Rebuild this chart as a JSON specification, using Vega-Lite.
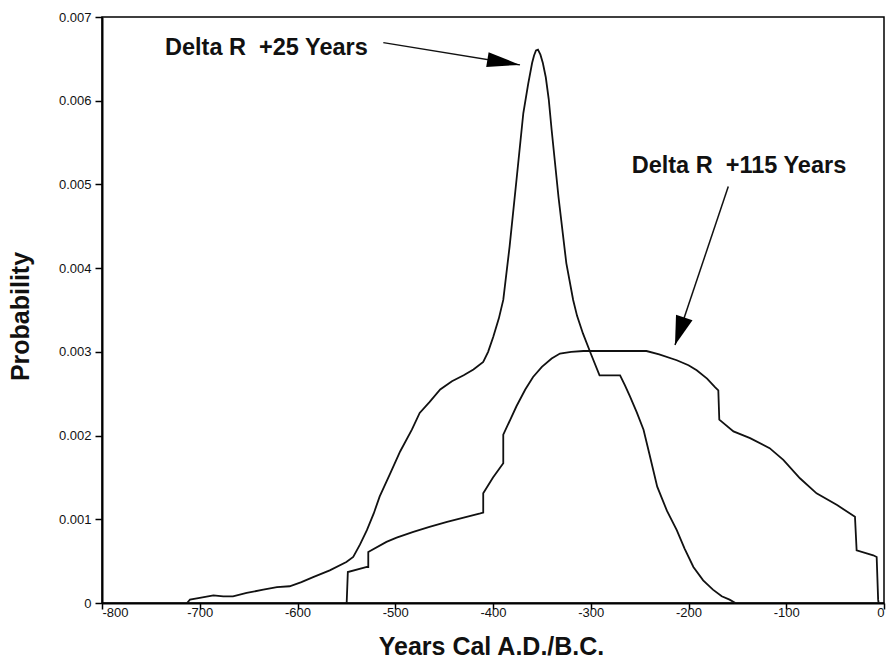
{
  "$schema": "https://vega.github.io/schema/vega-lite/v6.json",
  "width": 782,
  "height": 586,
  "autosize": {"type": "none"},
  "padding": {"left": 102, "top": 17, "right": 5, "bottom": 57},
  "background": "white",
  "config": {
    "view": {"stroke": "#000", "strokeWidth": 1.5},
    "axis": {
      "grid": false,
      "domainColor": "#000",
      "domainWidth": 2,
      "tickColor": "#000",
      "tickWidth": 1.5,
      "labelFont": "Liberation Sans",
      "labelFontSize": 13,
      "labelColor": "#111",
      "titleFont": "Liberation Sans",
      "titleFontSize": 25,
      "titleFontWeight": "bold",
      "titleColor": "#111"
    }
  },
  "datasets": {
    "curves": [
      {"series": "Delta R +25 Years", "year": -713, "p": 0},
      {"series": "Delta R +25 Years", "year": -710, "p": 0.00004},
      {"series": "Delta R +25 Years", "year": -700, "p": 0.00006},
      {"series": "Delta R +25 Years", "year": -686, "p": 0.00009},
      {"series": "Delta R +25 Years", "year": -676, "p": 0.00008},
      {"series": "Delta R +25 Years", "year": -666, "p": 0.00008},
      {"series": "Delta R +25 Years", "year": -652, "p": 0.00012},
      {"series": "Delta R +25 Years", "year": -635, "p": 0.00016},
      {"series": "Delta R +25 Years", "year": -621, "p": 0.00019},
      {"series": "Delta R +25 Years", "year": -608, "p": 0.0002},
      {"series": "Delta R +25 Years", "year": -596, "p": 0.00025},
      {"series": "Delta R +25 Years", "year": -584, "p": 0.00031},
      {"series": "Delta R +25 Years", "year": -567, "p": 0.00039},
      {"series": "Delta R +25 Years", "year": -550, "p": 0.00049},
      {"series": "Delta R +25 Years", "year": -543, "p": 0.00055},
      {"series": "Delta R +25 Years", "year": -536, "p": 0.0007},
      {"series": "Delta R +25 Years", "year": -529, "p": 0.00087},
      {"series": "Delta R +25 Years", "year": -522, "p": 0.00107},
      {"series": "Delta R +25 Years", "year": -516, "p": 0.00127},
      {"series": "Delta R +25 Years", "year": -505, "p": 0.00155},
      {"series": "Delta R +25 Years", "year": -495, "p": 0.00181},
      {"series": "Delta R +25 Years", "year": -483, "p": 0.00207},
      {"series": "Delta R +25 Years", "year": -475, "p": 0.00227},
      {"series": "Delta R +25 Years", "year": -465, "p": 0.0024},
      {"series": "Delta R +25 Years", "year": -454, "p": 0.00255},
      {"series": "Delta R +25 Years", "year": -442, "p": 0.00265},
      {"series": "Delta R +25 Years", "year": -430, "p": 0.00272},
      {"series": "Delta R +25 Years", "year": -420, "p": 0.00279},
      {"series": "Delta R +25 Years", "year": -410, "p": 0.00288},
      {"series": "Delta R +25 Years", "year": -405, "p": 0.003},
      {"series": "Delta R +25 Years", "year": -399.7, "p": 0.00318},
      {"series": "Delta R +25 Years", "year": -394, "p": 0.0034},
      {"series": "Delta R +25 Years", "year": -389.5, "p": 0.00362},
      {"series": "Delta R +25 Years", "year": -383, "p": 0.00426},
      {"series": "Delta R +25 Years", "year": -376, "p": 0.00505},
      {"series": "Delta R +25 Years", "year": -369, "p": 0.00585},
      {"series": "Delta R +25 Years", "year": -364, "p": 0.0062},
      {"series": "Delta R +25 Years", "year": -360, "p": 0.00645},
      {"series": "Delta R +25 Years", "year": -358, "p": 0.00654},
      {"series": "Delta R +25 Years", "year": -356, "p": 0.0066},
      {"series": "Delta R +25 Years", "year": -354, "p": 0.00661},
      {"series": "Delta R +25 Years", "year": -351.5, "p": 0.00655},
      {"series": "Delta R +25 Years", "year": -349, "p": 0.00645},
      {"series": "Delta R +25 Years", "year": -346, "p": 0.00628},
      {"series": "Delta R +25 Years", "year": -343, "p": 0.00602},
      {"series": "Delta R +25 Years", "year": -340, "p": 0.00565},
      {"series": "Delta R +25 Years", "year": -333, "p": 0.00485},
      {"series": "Delta R +25 Years", "year": -325, "p": 0.00406},
      {"series": "Delta R +25 Years", "year": -318, "p": 0.00362},
      {"series": "Delta R +25 Years", "year": -314, "p": 0.00343},
      {"series": "Delta R +25 Years", "year": -308, "p": 0.00322},
      {"series": "Delta R +25 Years", "year": -300, "p": 0.00298},
      {"series": "Delta R +25 Years", "year": -291, "p": 0.00272},
      {"series": "Delta R +25 Years", "year": -270, "p": 0.00272},
      {"series": "Delta R +25 Years", "year": -265, "p": 0.0026},
      {"series": "Delta R +25 Years", "year": -260, "p": 0.00247},
      {"series": "Delta R +25 Years", "year": -253, "p": 0.00228},
      {"series": "Delta R +25 Years", "year": -246, "p": 0.00207},
      {"series": "Delta R +25 Years", "year": -240, "p": 0.00178},
      {"series": "Delta R +25 Years", "year": -232, "p": 0.00139},
      {"series": "Delta R +25 Years", "year": -222, "p": 0.0011},
      {"series": "Delta R +25 Years", "year": -212, "p": 0.00087},
      {"series": "Delta R +25 Years", "year": -204, "p": 0.00065},
      {"series": "Delta R +25 Years", "year": -195, "p": 0.00043},
      {"series": "Delta R +25 Years", "year": -185, "p": 0.00027},
      {"series": "Delta R +25 Years", "year": -175, "p": 0.00016},
      {"series": "Delta R +25 Years", "year": -166, "p": 0.00008},
      {"series": "Delta R +25 Years", "year": -158, "p": 0.00004},
      {"series": "Delta R +25 Years", "year": -152, "p": 0},
      {"series": "Delta R +115 Years", "year": -549.7, "p": 0},
      {"series": "Delta R +115 Years", "year": -548.5, "p": 0.00037},
      {"series": "Delta R +115 Years", "year": -529, "p": 0.00043},
      {"series": "Delta R +115 Years", "year": -527.6, "p": 0.00043},
      {"series": "Delta R +115 Years", "year": -527.6, "p": 0.00061},
      {"series": "Delta R +115 Years", "year": -509, "p": 0.00073},
      {"series": "Delta R +115 Years", "year": -498.6, "p": 0.00078},
      {"series": "Delta R +115 Years", "year": -481.5, "p": 0.00085},
      {"series": "Delta R +115 Years", "year": -465, "p": 0.00091},
      {"series": "Delta R +115 Years", "year": -447, "p": 0.00097},
      {"series": "Delta R +115 Years", "year": -430, "p": 0.00102},
      {"series": "Delta R +115 Years", "year": -413, "p": 0.00107},
      {"series": "Delta R +115 Years", "year": -410, "p": 0.00108},
      {"series": "Delta R +115 Years", "year": -410, "p": 0.00131},
      {"series": "Delta R +115 Years", "year": -400, "p": 0.0015},
      {"series": "Delta R +115 Years", "year": -389.5, "p": 0.00167},
      {"series": "Delta R +115 Years", "year": -389.5, "p": 0.00201},
      {"series": "Delta R +115 Years", "year": -376, "p": 0.00235},
      {"series": "Delta R +115 Years", "year": -367, "p": 0.00255},
      {"series": "Delta R +115 Years", "year": -359, "p": 0.0027},
      {"series": "Delta R +115 Years", "year": -350, "p": 0.00282},
      {"series": "Delta R +115 Years", "year": -340, "p": 0.00292},
      {"series": "Delta R +115 Years", "year": -331.5, "p": 0.00298},
      {"series": "Delta R +115 Years", "year": -320, "p": 0.003},
      {"series": "Delta R +115 Years", "year": -307.6, "p": 0.00301},
      {"series": "Delta R +115 Years", "year": -243, "p": 0.00301},
      {"series": "Delta R +115 Years", "year": -230, "p": 0.00297},
      {"series": "Delta R +115 Years", "year": -212, "p": 0.0029},
      {"series": "Delta R +115 Years", "year": -200, "p": 0.00284},
      {"series": "Delta R +115 Years", "year": -191.6, "p": 0.00278},
      {"series": "Delta R +115 Years", "year": -181, "p": 0.00268},
      {"series": "Delta R +115 Years", "year": -172.9, "p": 0.00258},
      {"series": "Delta R +115 Years", "year": -169.5, "p": 0.00254},
      {"series": "Delta R +115 Years", "year": -168.5, "p": 0.00219},
      {"series": "Delta R +115 Years", "year": -154, "p": 0.00205},
      {"series": "Delta R +115 Years", "year": -137, "p": 0.00197},
      {"series": "Delta R +115 Years", "year": -117, "p": 0.00185},
      {"series": "Delta R +115 Years", "year": -103, "p": 0.00171},
      {"series": "Delta R +115 Years", "year": -86, "p": 0.00149},
      {"series": "Delta R +115 Years", "year": -69, "p": 0.00131},
      {"series": "Delta R +115 Years", "year": -48, "p": 0.00117},
      {"series": "Delta R +115 Years", "year": -29.7, "p": 0.00103},
      {"series": "Delta R +115 Years", "year": -28, "p": 0.00063},
      {"series": "Delta R +115 Years", "year": -11, "p": 0.00057},
      {"series": "Delta R +115 Years", "year": -7.5, "p": 0.00055},
      {"series": "Delta R +115 Years", "year": -6, "p": 0.00004},
      {"series": "Delta R +115 Years", "year": -5.5, "p": 0}
    ],
    "arrows": [
      {"id": 1, "year": -512.2, "p": 0.006694, "year2": -372.4, "p2": 0.006428},
      {"id": 2, "year": -159.3, "p": 0.004974, "year2": -213.8, "p2": 0.003082}
    ],
    "labels": [
      {"text": "Delta R\u00a0 +25 Years", "year": -735.5, "p": 0.006547},
      {"text": "Delta R\u00a0 +115 Years", "year": -258.1, "p": 0.005134}
    ]
  },
  "layer": [
    {
      "data": {"name": "curves"},
      "mark": {"type": "line", "color": "#111", "strokeWidth": 1.8, "interpolate": "linear"},
      "encoding": {
        "x": {
          "field": "year", "type": "quantitative",
          "scale": {"domain": [-800, 0], "nice": false, "zero": false},
          "axis": {
            "title": "Years Cal A.D./B.C.",
            "values": [-800, -700, -600, -500, -400, -300, -200, -100, 0],
            "labelExpr": "'' + datum.value",
            "tickSize": 6,
            "labelPadding": -3,
            "titleX": 389,
            "titleY": 51,
            "titleBaseline": "alphabetic"
          }
        },
        "y": {
          "field": "p", "type": "quantitative",
          "scale": {"domain": [0, 0.007], "nice": false},
          "axis": {
            "title": "Probability",
            "values": [0, 0.001, 0.002, 0.003, 0.004, 0.005, 0.006, 0.007],
            "format": ".3~f",
            "tickSize": 7,
            "labelPadding": 4,
            "titleX": -74,
            "titleY": 299,
            "titleAngle": -90,
            "titleAlign": "center",
            "titleBaseline": "alphabetic"
          }
        },
        "detail": {"field": "series"},
        "order": {"value": null}
      }
    },
    {
      "data": {"name": "arrows"},
      "mark": {"type": "rule", "color": "#111", "strokeWidth": 1.5},
      "encoding": {
        "x": {"field": "year", "type": "quantitative"},
        "y": {"field": "p", "type": "quantitative"},
        "x2": {"field": "year2"},
        "y2": {"field": "p2"}
      }
    },
    {
      "data": {"name": "arrows"},
      "transform": [{"filter": "datum.id == 1"}],
      "mark": {"type": "point", "filled": true, "color": "#000", "opacity": 1, "shape": "M0,0L-2,-0.45L-2,0.45Z", "size": 1089, "angle": 9.3},
      "encoding": {
        "x": {"field": "year2", "type": "quantitative"},
        "y": {"field": "p2", "type": "quantitative"}
      }
    },
    {
      "data": {"name": "arrows"},
      "transform": [{"filter": "datum.id == 2"}],
      "mark": {"type": "point", "filled": true, "color": "#000", "opacity": 1, "shape": "M0,0L-2,-0.6L-2,0.6Z", "size": 841, "angle": 108.6},
      "encoding": {
        "x": {"field": "year2", "type": "quantitative"},
        "y": {"field": "p2", "type": "quantitative"}
      }
    },
    {
      "data": {"name": "labels"},
      "mark": {"type": "text", "font": "Liberation Sans", "fontWeight": "bold", "fontSize": 23.5, "color": "#111", "align": "left", "baseline": "alphabetic"},
      "encoding": {
        "x": {"field": "year", "type": "quantitative"},
        "y": {"field": "p", "type": "quantitative"},
        "text": {"field": "text"}
      }
    }
  ]
}
